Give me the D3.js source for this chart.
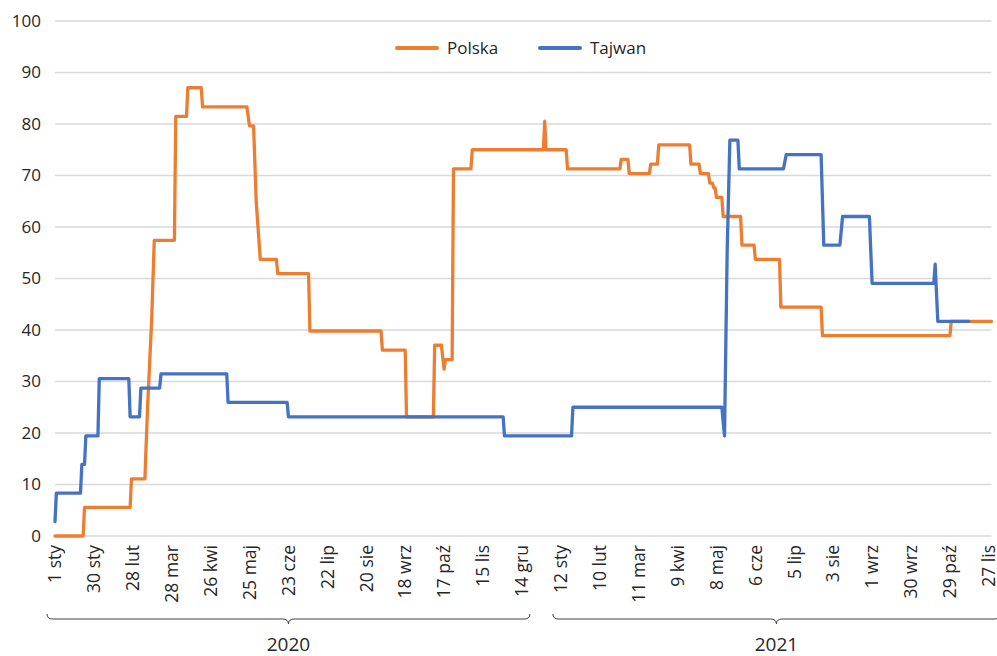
<!DOCTYPE html>
<html>
<head>
<meta charset="utf-8">
<script src="https://cdn.jsdelivr.net/npm/d3@7"></script>
<style>
  html, body { margin: 0; padding: 0; background: #ffffff; }
  svg { display: block; }
  text { font-family: "Open Sans", Lato, sans-serif; fill: #262626; }
</style>
</head>
<body>
<svg id="chart" width="997" height="656"></svg>
<script>
// ---------- DATA ----------
const seriesNames = ["Polska", "Tajwan"];

const polskaDates = [
  "2020-01-01","2020-01-22","2020-01-23","2020-02-26","2020-02-27","2020-03-08","2020-03-10","2020-03-13","2020-03-15",
  "2020-03-30","2020-03-31","2020-04-08","2020-04-09","2020-04-19","2020-04-20","2020-05-23","2020-05-25","2020-05-28",
  "2020-05-30","2020-06-02","2020-06-14","2020-06-15","2020-07-08","2020-07-09","2020-08-31","2020-09-01","2020-09-18",
  "2020-09-19","2020-10-09","2020-10-10","2020-10-15","2020-10-17","2020-10-18","2020-10-23","2020-10-24","2020-11-06",
  "2020-11-07","2020-12-30","2020-12-31","2021-01-01","2021-01-16","2021-01-17","2021-02-25","2021-02-26","2021-03-03",
  "2021-03-04","2021-03-19","2021-03-20","2021-03-25","2021-03-26","2021-04-18","2021-04-19","2021-04-25","2021-04-26",
  "2021-05-02","2021-05-03","2021-05-05","2021-05-06","2021-05-07","2021-05-08","2021-05-12","2021-05-13","2021-05-26",
  "2021-05-27","2021-06-05","2021-06-06","2021-06-24","2021-06-25","2021-07-25","2021-07-26","2021-10-29","2021-10-30",
  "2021-11-29"
];
const polskaValues = [
  0, 0, 5.56, 5.56, 11.11, 11.11, 25.0, 41.67, 57.41,
  57.41, 81.48, 81.48, 87.04, 87.04, 83.33, 83.33, 79.63, 79.63,
  64.81, 53.7, 53.7, 50.93, 50.93, 39.81, 39.81, 36.11, 36.11,
  23.15, 23.15, 37.04, 37.04, 32.41, 34.26, 34.26, 71.3, 71.3,
  75.0, 75.0, 80.56, 75.0, 75.0, 71.3, 71.3, 73.15, 73.15,
  70.37, 70.37, 72.22, 72.22, 75.93, 75.93, 72.22, 72.22, 70.37,
  70.37, 68.52, 68.52, 67.59, 67.59, 65.74, 65.74, 62.04, 62.04,
  56.48, 56.48, 53.7, 53.7, 44.44, 44.44, 38.89, 38.89, 41.67,
  41.67
];

const tajwanDates = [
  "2020-01-01","2020-01-02","2020-01-20","2020-01-21","2020-01-23","2020-01-24","2020-02-02","2020-02-03","2020-02-25",
  "2020-02-26","2020-03-04","2020-03-05","2020-03-19","2020-03-20","2020-05-08","2020-05-09","2020-06-22","2020-06-23",
  "2020-11-30","2020-12-01","2021-01-20","2021-01-21","2021-05-12","2021-05-14","2021-05-16","2021-05-18","2021-05-24",
  "2021-05-25","2021-06-27","2021-06-29","2021-07-25","2021-07-27","2021-08-08","2021-08-10","2021-08-30","2021-09-01",
  "2021-10-17","2021-10-18","2021-10-20","2021-11-12"
];
const tajwanValues = [
  2.78, 8.33, 8.33, 13.89, 13.89, 19.44, 19.44, 30.56, 30.56,
  23.15, 23.15, 28.7, 28.7, 31.48, 31.48, 25.93, 25.93, 23.15,
  23.15, 19.44, 19.44, 25.0, 25.0, 19.44, 55.56, 76.85, 76.85,
  71.3, 71.3, 74.07, 74.07, 56.48, 56.48, 62.04, 62.04, 49.07,
  49.07, 52.78, 41.67, 41.67
];

const tickDates = [
  "2020-01-01","2020-01-30","2020-02-28","2020-03-28","2020-04-26","2020-05-25","2020-06-23","2020-07-22","2020-08-20",
  "2020-09-18","2020-10-17","2020-11-15","2020-12-14","2021-01-12","2021-02-10","2021-03-11","2021-04-09","2021-05-08",
  "2021-06-06","2021-07-05","2021-08-03","2021-09-01","2021-09-30","2021-10-29","2021-11-27"
];
const tickLabels = [
  "1 sty","30 sty","28 lut","28 mar","26 kwi","25 maj","23 cze","22 lip","20 sie",
  "18 wrz","17 paź","15 lis","14 gru","12 sty","10 lut","11 mar","9 kwi","8 maj",
  "6 cze","5 lip","3 sie","1 wrz","30 wrz","29 paź","27 lis"
];
const yTicks = [0, 10, 20, 30, 40, 50, 60, 70, 80, 90, 100];
const yearLabels = ["2020", "2021"];
const yearFirstTick = ["2020-01-01", "2021-01-12"];
const yearLastTick = ["2020-12-14", "2021-11-27"];

// ---------- LAYOUT ----------
const parse = d3.utcParse("%Y-%m-%d");
const colors = { Polska: "#ED7D31", Tajwan: "#4472C4" };
const plotLeft = 55, plotRight = 991.5, plotTop = 21, plotBottom = 536;
const fontFam = "'Open Sans', Lato, sans-serif";

const x = d3.scaleUtc()
  .domain([parse("2020-01-01"), parse("2021-11-29")])
  .range([plotLeft, plotRight]);
const y = d3.scaleLinear().domain([0, 100]).range([plotBottom, plotTop]);

const svg = d3.select("#chart");

// gridlines
svg.append("g").selectAll("line").data(yTicks).join("line")
  .attr("x1", plotLeft).attr("x2", plotRight)
  .attr("y1", d => y(d)).attr("y2", d => y(d))
  .attr("stroke", "#d9d9d9").attr("stroke-width", 1.4);

// y axis
const yAxis = svg.append("g").attr("transform", `translate(${plotLeft},0)`)
  .call(d3.axisLeft(y).tickValues(yTicks).tickSize(0).tickPadding(14));
yAxis.select(".domain").remove();
yAxis.selectAll("text").style("font-size", "17px").style("font-family", fontFam).attr("fill", "#262626");

// x axis
const xAxis = svg.append("g").attr("transform", `translate(0,${plotBottom})`)
  .call(d3.axisBottom(x).tickValues(tickDates.map(parse)).tickFormat((d, i) => tickLabels[i]).tickSize(0));
xAxis.select(".domain").remove();
xAxis.selectAll("text")
  .attr("transform", "rotate(-90)")
  .attr("text-anchor", "end")
  .attr("x", -9).attr("y", 0).attr("dy", "0.33em")
  .style("font-size", "17.5px").style("font-family", fontFam).attr("fill", "#262626");

// lines
const line = d3.line().x(d => x(d[0])).y(d => y(d[1])).curve(d3.curveLinear);
const seriesData = {
  Polska: polskaDates.map((d, i) => [parse(d), polskaValues[i]]),
  Tajwan: tajwanDates.map((d, i) => [parse(d), tajwanValues[i]])
};
seriesNames.forEach(name => {
  svg.append("path").datum(seriesData[name])
    .attr("d", line)
    .attr("fill", "none")
    .attr("stroke", colors[name])
    .attr("stroke-width", 3.3)
    .attr("stroke-linejoin", "round")
    .attr("stroke-linecap", "round");
});

// legend
const legendItems = [{ name: "Polska", x: 397 }, { name: "Tajwan", x: 540 }];
const lg = svg.append("g");
legendItems.forEach(it => {
  lg.append("line").attr("x1", it.x).attr("x2", it.x + 40).attr("y1", 48).attr("y2", 48)
    .attr("stroke", colors[it.name]).attr("stroke-width", 4).attr("stroke-linecap", "round");
  lg.append("text").attr("x", it.x + 50).attr("y", 48).attr("dy", "0.35em")
    .style("font-size", "17px").style("font-family", fontFam).text(it.name);
});

// year braces
const braceY = 619;
function bracePath(x0, x1) {
  const m = (x0 + x1) / 2, r = 6;
  return `M${x0},${braceY - 5} Q${x0},${braceY} ${x0 + r},${braceY} L${m - r},${braceY} Q${m},${braceY} ${m},${braceY + 5} Q${m},${braceY} ${m + r},${braceY} L${x1 - r},${braceY} Q${x1},${braceY} ${x1},${braceY - 5}`;
}
yearLabels.forEach((lab, i) => {
  const x0 = x(parse(yearFirstTick[i])) - 8;
  const x1 = i === 0 ? x(parse(yearLastTick[i])) + 8 : 1000;
  svg.append("path").attr("d", bracePath(x0, x1))
    .attr("fill", "none").attr("stroke", "#404040").attr("stroke-width", 1);
  svg.append("text").attr("x", (x0 + x1) / 2).attr("y", 644).attr("dy", "0.35em")
    .attr("text-anchor", "middle").style("font-size", "19px").style("font-family", fontFam).text(lab);
});
</script>
</body>
</html>
